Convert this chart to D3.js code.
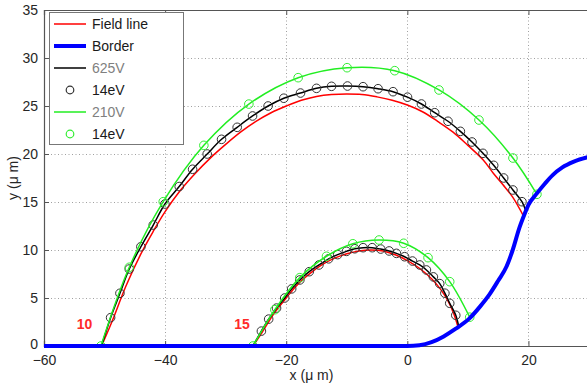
<!DOCTYPE html>
<html><head><meta charset="utf-8">
<script src="https://cdn.jsdelivr.net/npm/d3@7"></script>
<style>
html,body{margin:0;padding:0;background:#fff;}
svg{display:block;font-family:"Liberation Sans",Arial,sans-serif;}
</style></head>
<body><svg id="chart" width="587" height="388"></svg>
<script>
// ---- data ----
const xTicks = [-60, -40, -20, 0, 20];
const yTicks = [0, 5, 10, 15, 20, 25, 30, 35];

const borderLine = [[-60,0],[0,0],[2,0.08],[4,0.4],[6,1.0],[8,1.8],[10.3,2.9],[12,4.1],[13.6,5.4],[15,6.8],[16.4,8.3],[17.4,10],[18.5,12.3],[19.4,13.8],[20,14.7],[21.4,15.9],[22.7,16.9],[24,17.8],[25.6,18.6],[27.5,19.2],[30,19.7]];

// outer trajectory (start x = -50.5)
const redOuter = [[-50.5,0],[-48.8,2.5],[-46.5,6.2],[-44,9.6],[-42,11.9],[-40,14.0],[-37.5,16.2],[-35,18.0],[-32.5,19.6],[-30,21.0],[-27.5,22.3],[-25,23.4],[-22.5,24.3],[-20,25.0],[-17.5,25.6],[-15,26.0],[-12.5,26.2],[-10,26.25],[-7.5,26.2],[-5,25.95],[-2.5,25.6],[0,25.1],[2.5,24.4],[5,23.4],[7.5,22.3],[10,20.9],[12.5,19.4],[14.2,18.0],[15.8,16.8],[17.4,15.5],[19.3,13.4]];
const black625Outer = [[-50.5,0],[-49.0,2.95],[-47.46,5.49],[-45.92,8.02],[-44.0,10.34],[-41.96,12.6],[-40.03,14.79],[-37.67,16.61],[-35.46,18.41],[-33.05,20.0],[-30.68,21.53],[-28.1,22.78],[-25.56,23.96],[-22.99,25.0],[-20.4,25.81],[-17.64,26.35],[-15.0,26.84],[-12.52,27.05],[-9.88,27.08],[-7.31,27.01],[-4.83,26.8],[-2.36,26.49],[0.03,25.92],[2.33,25.21],[4.52,24.3],[6.72,23.41],[8.76,22.36],[10.68,21.25],[12.49,20.07],[14.26,18.82],[15.91,17.5],[17.44,16.25],[18.93,15.03],[19.6,14.0]];
const black14eVOuter = [[-49.0,2.95],[-47.46,5.49],[-45.92,8.02],[-44.0,10.34],[-41.96,12.6],[-40.03,14.79],[-37.67,16.61],[-35.46,18.41],[-33.05,20.0],[-30.68,21.53],[-28.1,22.78],[-25.56,23.96],[-22.99,25.0],[-20.4,25.81],[-17.64,26.35],[-15.0,26.84],[-12.52,27.05],[-9.88,27.08],[-7.31,27.01],[-4.83,26.8],[-2.36,26.49],[0.03,25.92],[2.33,25.21],[4.52,24.3],[6.72,23.41],[8.76,22.36],[10.68,21.25],[12.49,20.07],[14.26,18.82],[15.91,17.5],[17.44,16.25],[18.93,15.03]];
const green210Outer = [[-50.6,0],[-45.92,8.2],[-40.31,15.03],[-33.6,20.9],[-26.17,25.2],[-18.03,27.95],[-9.95,28.99],[-2.08,28.68],[5.23,26.67],[11.83,23.54],[17.44,19.58],[21.4,15.8]];
const green14eVOuter = [[-50.6,0],[-45.92,8.2],[-40.31,15.03],[-33.6,20.9],[-26.17,25.2],[-18.03,27.95],[-9.95,28.99],[-2.08,28.68],[5.23,26.67],[11.83,23.54],[17.44,19.58],[21.4,15.8]];

// inner trajectory (start x = -25.5)
const redInner = [[-25.5,0],[-24,1.4],[-22,3.4],[-20,5.0],[-18,6.5],[-16,7.6],[-14,8.5],[-12,9.15],[-10,9.6],[-8,9.9],[-6,10.0],[-4,9.9],[-2,9.5],[0,8.9],[2,8.1],[4,7.0],[5.5,5.9],[6.8,4.6],[7.7,3.3],[8.4,1.9]];
const black625Inner = [[-25.5,0],[-24.1,1.55],[-22.9,2.8],[-21.6,3.95],[-20.25,5.0],[-19.1,5.95],[-17.75,6.88],[-16.2,7.74],[-14.6,8.44],[-13.0,9.08],[-11.5,9.52],[-10.05,9.86],[-8.68,10.13],[-7.3,10.24],[-5.8,10.24],[-4.4,10.1],[-3.0,9.9],[-1.8,9.65],[-0.45,9.3],[0.85,8.85],[2.05,8.44],[3.15,7.92],[4.3,7.2],[5.35,6.5],[6.2,5.5],[7.0,4.45],[8.0,3.2],[8.5,2.0]];
const black14eVInner = [[-24.1,1.55],[-22.9,2.8],[-21.6,3.95],[-20.25,5.0],[-19.1,5.95],[-17.75,6.88],[-16.2,7.74],[-14.6,8.44],[-13.0,9.08],[-11.5,9.52],[-10.05,9.86],[-8.68,10.13],[-7.3,10.24],[-5.8,10.24],[-4.4,10.1],[-3.0,9.9],[-1.8,9.65],[-0.45,9.3],[0.85,8.85],[2.05,8.44],[3.15,7.92],[4.3,7.2],[5.35,6.5],[6.2,5.5],[7.0,4.45],[8.0,3.2]];
const green210Inner = [[-25.5,0],[-21.88,3.78],[-17.76,7.12],[-13.35,9.35],[-9.0,10.65],[-4.67,11.04],[-0.6,10.7],[3.42,9.2],[7.0,6.7],[10.3,3.0]];
const green14eVInner = [[-25.5,0],[-21.88,3.78],[-17.76,7.12],[-13.35,9.35],[-9.0,10.65],[-4.67,11.04],[-0.6,10.7],[3.42,9.2],[7.0,6.7],[10.3,3.0]];

const startLabels = [{t:"10", x:-53.3, y:1.8},{t:"15", x:-27.3, y:1.8}];
const legendItems = [
  {label:"Field line", kind:"line", color:"#ff0000", w:1.5, tc:"#1a1a1a"},
  {label:"Border", kind:"line", color:"#0000ff", w:4, tc:"#1a1a1a"},
  {label:"625V", kind:"line", color:"#000000", w:1.5, tc:"#808080"},
  {label:"14eV", kind:"circle", color:"#333333", tc:"#1a1a1a"},
  {label:"210V", kind:"line", color:"#22ee22", w:1.5, tc:"#808080"},
  {label:"14eV", kind:"circle", color:"#33ee33", tc:"#1a1a1a"}
];

// ---- chart ----
const svg = d3.select("#chart");
const L = 44, T = 10, R = 589, B = 346;
const x = d3.scaleLinear().domain([-60, 30]).range([L, R]);
const y = d3.scaleLinear().domain([0, 35]).range([B, T]);

svg.append("defs").append("clipPath").attr("id","clip")
  .append("rect").attr("x",L).attr("y",T-2).attr("width",R-L).attr("height",B-T+4);

// grid
const grid = svg.append("g").attr("stroke","#a0a0a0").attr("stroke-width",1).attr("stroke-dasharray","1,2.5");
grid.selectAll("line.gx").data(xTicks.filter(d=>d>-60)).join("line")
  .attr("x1",d=>Math.round(x(d))+0.5).attr("x2",d=>Math.round(x(d))+0.5).attr("y1",T).attr("y2",B);
grid.selectAll("line.gy").data(yTicks.filter(d=>d>0 && d<35)).join("line")
  .attr("y1",d=>Math.round(y(d))+0.5).attr("y2",d=>Math.round(y(d))+0.5).attr("x1",L).attr("x2",R);

// axes
const axisColor = "#555";
const xAxis = svg.append("g").attr("transform",`translate(0,${B})`)
  .call(d3.axisBottom(x).tickValues(xTicks).tickSize(-5).tickPadding(11).tickFormat(d3.format("d")));
const xAxisTop = svg.append("g").attr("transform",`translate(0,${T})`)
  .call(d3.axisTop(x).tickValues(xTicks).tickSize(-5).tickFormat(""));
const yAxis = svg.append("g").attr("transform",`translate(${L},0)`)
  .call(d3.axisLeft(y).tickValues(yTicks).tickSize(-5).tickPadding(6));
[xAxis,xAxisTop,yAxis].forEach(g=>{
  g.select(".domain").attr("stroke",axisColor).attr("stroke-width",1.2);
  g.selectAll(".tick line").attr("stroke",axisColor);
  g.selectAll(".tick text").attr("fill","#262626").style("font-size","14px").style("font-family","'Liberation Sans',Arial,sans-serif");
});
xAxis.selectAll(".tick text").attr("dy","0.6em");
yAxis.selectAll(".tick text").filter(d=>d===0).attr("dy","0.2em");

// axis titles
svg.append("text").attr("x",(L+R)/2 - 5).attr("y",380).attr("text-anchor","middle")
  .attr("fill","#262626").style("font-size","14px").text("x (μ m)");
svg.append("text").attr("transform",`translate(18,${(T+B)/2}) rotate(-90)`).attr("text-anchor","middle")
  .attr("fill","#262626").style("font-size","14px").text("y (μ m)");

// data
const plot = svg.append("g").attr("clip-path","url(#clip)");
const lineSmooth = d3.line().x(d=>x(d[0])).y(d=>y(d[1])).curve(d3.curveCatmullRom.alpha(0.5));
const lineMono = d3.line().x(d=>x(d[0])).y(d=>y(d[1])).curve(d3.curveMonotoneX);

function path(data, color, w, gen){
  plot.append("path").datum(data).attr("d", gen||lineSmooth).attr("fill","none")
    .attr("stroke",color).attr("stroke-width",w).attr("stroke-linejoin","round");
}
function circles(data, color){
  plot.append("g").selectAll("circle").data(data).join("circle")
    .attr("cx",d=>x(d[0])).attr("cy",d=>y(d[1])).attr("r",4.3)
    .attr("fill","none").attr("stroke",color).attr("stroke-width",1);
}

path(redOuter, "#ff0000", 1.5);
path(redInner, "#ff0000", 1.5);
path(black625Outer, "#000000", 1.5);
path(black625Inner, "#000000", 1.5);
circles(black14eVOuter, "#333333");
circles(black14eVInner, "#333333");
path(green210Outer, "#22ee22", 1.5);
path(green210Inner, "#22ee22", 1.5);
circles(green14eVOuter, "#33ee33");
circles(green14eVInner, "#33ee33");
path(borderLine, "#0000ff", 4, lineMono);

svg.selectAll("text.start").data(startLabels).join("text").attr("class","start")
  .attr("x",d=>x(d.x)).attr("y",d=>y(d.y)).attr("text-anchor","middle")
  .attr("fill","#ff2a2a").style("font-size","14px").style("font-weight","bold").text(d=>d.t);

// legend
const lg = svg.append("g");
lg.append("rect").attr("x",49.5).attr("y",12.5).attr("width",134).attr("height",132)
  .attr("fill","#fff").attr("stroke","#777").attr("stroke-width",1);
const rowY = i => 24 + i*22;
legendItems.forEach((d,i)=>{
  const yy = rowY(i);
  if(d.kind==="line"){
    lg.append("line").attr("x1",54).attr("x2",86).attr("y1",yy).attr("y2",yy)
      .attr("stroke",d.color).attr("stroke-width",d.w);
  } else {
    lg.append("circle").attr("cx",70).attr("cy",yy).attr("r",3.8).attr("fill","none")
      .attr("stroke",d.color).attr("stroke-width",1.2);
  }
  lg.append("text").attr("x",92).attr("y",yy).attr("dy","0.36em").attr("fill",d.tc)
    .style("font-size","14px").text(d.label);
});
</script></body></html>
